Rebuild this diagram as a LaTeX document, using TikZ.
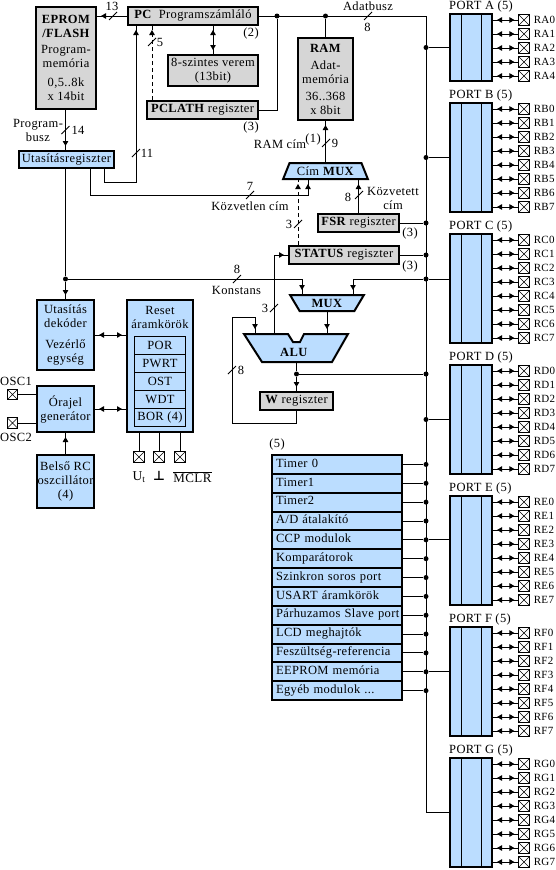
\documentclass[tikz,border=0pt]{standalone}
\usepackage{fontspec}
\setmainfont[LetterSpace=3]{Liberation Serif}
\newfontfamily\symbfont{DejaVu Sans}
\usetikzlibrary{arrows.meta, positioning, calc, shapes.geometric, decorations.markings}
\definecolor{boxblue}{HTML}{BBDDFF}
\definecolor{boxgray}{HTML}{D6D6D6}

\begin{document}
\begin{tikzpicture}[
  x=1pt, y=-1pt,
  >={Triangle[length=5pt,width=5.5pt]},
  txt/.style={inner sep=0pt, align=center, font=\fontsize{12.5}{14}\selectfont},
  pintxt/.style={inner sep=0pt, anchor=west, font=\fontsize{11}{12}\selectfont},
  dims/.style 2 args={minimum width=#1, minimum height=#2},
  block/.style={rectangle, draw, line width=2pt, anchor=north west, inner sep=0pt, align=center, font=\fontsize{12.5}{14}\selectfont},
  blueblock/.style={block, fill=boxblue},
  grayblock/.style={block, fill=boxgray},
  trapbox/.style={trapezium, trapezium stretches=true, draw, line width=2pt, fill=boxblue, inner sep=0pt, font=\fontsize{12.5}{14}\selectfont},
  rowbox/.style={block, fill=boxblue, line width=0.9pt},
  modbox/.style={blueblock, minimum height=18.85, text width=122pt, inner xsep=4pt, align=left, text height=8pt, text depth=2.5pt},
  pinbox/.style={rectangle, draw, line width=0.7pt, inner sep=0pt, minimum size=10.5pt, path picture={\draw[line width=0.6pt] (path picture bounding box.north west) -- (path picture bounding box.south east) (path picture bounding box.north east) -- (path picture bounding box.south west);}},
  junc/.style={circle, fill=black, inner sep=0pt, minimum size=5pt},
  wire/.style={line width=0.9pt},
  dashwire/.style={dash pattern=on 4pt off 3pt},
  tipend/.style={wire, postaction={decorate}, decoration={markings, mark=at position -4pt with {\arrow{>}}}},
  tipboth/.style={wire, postaction={decorate}, decoration={markings, mark=at position 4pt with {\arrowreversed{>}}, mark=at position -4pt with {\arrow{>}}}}
]
  \useasboundingbox (0,0) rectangle (556,870);

  \node[grayblock, dims={60}{102}] (eprom) at (35,6) {\textbf{EPROM}\\\textbf{/FLASH}\\[2pt]Program-\\memória\\[5pt]0,5..8k\\x 14bit};
  \node[grayblock, dims={130}{18}] (pc) at (127,6) {\textbf{PC}\ \ Programszámláló};
  \node[grayblock, dims={90}{31}] (stack) at (167,54) {8-szintes verem\\(13bit)};
  \node[grayblock, dims={111}{18}] (pclath) at (146,100) {\textbf{PCLATH} regiszter};
  \node[blueblock, dims={95}{17}] (utas) at (18,150) {Utasításregiszter};
  \node[grayblock, dims={55}{82}] (ram) at (297,37) {\textbf{RAM}\\[3pt]Adat-\\memória\\[3pt]36..368\\x 8bit};
  \node[grayblock, dims={81}{18}] (fsr) at (317,213) {\textbf{FSR} regiszter};
  \node[grayblock, dims={110}{18}] (status) at (288,245) {\textbf{STATUS} regiszter};
  \node[grayblock, dims={73}{18}] (wreg) at (259,391) {\textbf{W} regiszter};
  \node[blueblock, dims={57}{70}] (decoder) at (36,299) {Utasítás\\dekóder\\[7pt]Vezérlő\\egység};
  \node[blueblock, dims={57}{46}] (clock) at (36,385) {Órajel\\generátor};
  \node[blueblock, dims={57}{53}] (rc) at (36,454) {Belső RC\\oszcillátor\\(4)};
  \node[blueblock, dims={66}{132}] (reset) at (126,299) {};
  \node[txt] (resettxt) at (160,317) {Reset\\áramkörök};
  \foreach \t [count=\i from 0] in {POR,PWRT,OST,WDT,BOR (4)}
    \node[rowbox, dims={51}{18}] (resrow\i) at (134,336+18*\i) {\t};

  \node[trapbox, dims={85}{16}, trapezium left angle=60, trapezium right angle=60] (camux) at (325.5,171) {Cím \textbf{MUX}};
  \node[trapbox, dims={74}{16}, trapezium left angle=57, trapezium right angle=57, shape border rotate=180] (mux) at (327,303) {\textbf{MUX}};
  \draw[line width=2pt, fill=boxblue, line join=miter] (244,334) -- (288,334) -- (293,342) -- (300,342) -- (304,334) -- (348,334) -- (332,362) -- (262,362) -- cycle;
  \node[txt] (alu) at (294,352) {\textbf{ALU}};
  \coordinate (aluA) at (255,333);
  \coordinate (aluB) at (327,333);
  \coordinate (aluC) at (274,333);
  \coordinate (aluO) at (296.5,363);

  \foreach \t [count=\i from 0] in {Timer 0,Timer1,Timer2,{A/D átalakító},CCP modulok,Komparátorok,Szinkron soros port,USART áramkörök,Párhuzamos Slave port,LCD meghajtók,Feszültség-referencia,EEPROM memória,{Egyéb modulok {...}}}
    \node[modbox] (mod\i) at (271,454+18.85*\i) {\mbox{\t}};

  \foreach \p/\top/\n in {A/13/4,B/102/7,C/233/7,D/364/7,E/495/7,F/626/7,G/757/7} {
    \pgfmathsetmacro\h{14*(\n+1)-3}
    \node[blueblock, dims={42}{\h}] (port\p) at (449,\top) {};
    \node[txt, anchor=south west] (title\p) at ([yshift=1pt]port\p.north west) {PORT \p\ (5)};
    \draw[wire] ([xshift=12.5pt]port\p.north west) -- ([xshift=12.5pt]port\p.south west);
    \draw[wire] ([xshift=32.5pt]port\p.north west) -- ([xshift=32.5pt]port\p.south west);
    \foreach \i in {0,...,\n} {
      \node[pinbox] (pinR\p\i) at (524,\top+7+14*\i) {};
      \node[pintxt] (lblR\p\i) at ([xshift=4pt]pinR\p\i.east) {R\p\i};
      \draw[tipboth] (port\p.east |- pinR\p\i) -- (pinR\p\i.west);
    }
  }

  \node[pinbox] (osc1) at (12.5,394.5) {};
  \node[pinbox] (osc2) at (12.5,423) {};
  \node[pinbox] (pinUt) at (139,457) {};
  \node[pinbox] (pinGnd) at (159,457) {};
  \node[pinbox] (pinMclr) at (180,457) {};

  \coordinate (busNE) at (426,16);
  \node[junc] (jpc) at (277,16) {};
  \node[junc] (jram) at (ram.north |- busNE) {};
  \node[junc] (jkonst) at (65.5,279) {};
  \node[junc] (jportc) at (busNE |- jkonst) {};
  \node[junc] (jalu) at (296.5,374) {};
  \node[junc] (jaluout) at (busNE |- jalu) {};
  \node[junc] (jfsr) at (busNE |- fsr.east) {};
  \node[junc] (jstatus) at (busNE |- status.east) {};
  \foreach \p in {A,B,D} \node[junc] (jport\p) at (busNE |- port\p.west) {};
  \foreach \i in {0,...,12} \node[junc] (jmod\i) at (busNE |- mod\i.east) {};

  \draw[wire] (pc.east) -- (busNE) |- (portG.west);
  \draw[wire] (pclath.east) -| (jpc);
  \draw[wire] (jram) -- (ram.north);
  \draw[wire] (jaluout) -- (jalu);
  \draw[wire] (fsr.east) -- (jfsr);
  \draw[wire] (status.east) -- (jstatus);
  \foreach \p in {A,B,D} \draw[wire] (jport\p) -- (port\p.west);
  \foreach \i in {0,...,12} \draw[wire] (mod\i.east) -- (jmod\i);
  \draw[wire] (jmod4) -- (jmod4 -| portE.west);
  \draw[wire] (jmod11) -- (jmod11 -| portF.west);

  \draw[tipend] (pc.west) -- (pc.west -| eprom.east);
  \draw[tipend] (jkonst |- eprom.south) -- (jkonst |- utas.north);
  \draw[wire] (jkonst |- utas.south) -- (jkonst);
  \draw[tipend] (jkonst) -- (jkonst |- decoder.north);
  \draw[tipend] ([xshift=-11pt]utas.south east) -- ++(0,13) -| ([xshift=9pt]pc.south west);
  \draw[tipend] ([xshift=-25pt]utas.south east) -- ++(0,26) -| ([xshift=-17.5pt]camux.south);
  \draw[tipend, dashwire] ([xshift=6pt]pclath.north west) -- ([xshift=25pt]pc.south west);
  \draw[tipboth] (stack.north |- pc.south) -- (stack.north);
  \draw[tipend] (camux.north) -- (ram.south);
  \draw[tipend] (fsr.north) -- (fsr.north |- camux.south);
  \draw[tipend, dashwire] ([xshift=-27.5pt]camux.south |- status.north) -- ([xshift=-27.5pt]camux.south);
  \draw[tipend] (aluC) |- (status.west);
  \draw[tipend] (jkonst) -| ([xshift=-25pt]mux.north);
  \draw[wire] (portC.west |- jportc) -- (jportc);
  \draw[tipend] (jportc) -| ([xshift=26pt]mux.north);
  \draw[tipend] (mux.south) -- (mux.south |- aluB);
  \draw[wire] (aluO) -- (jalu);
  \draw[tipend] (jalu) -- (wreg.north);
  \draw[tipend] (wreg.south) -- ++(0,12) -| ($(aluA)+(-23,-16)$) -| (aluA);
  \draw[tipboth] (decoder.east) -- (decoder.east -| reset.west);
  \draw[tipboth] (clock.east) -- (clock.east -| reset.west);
  \draw[tipend] (rc.north) -- (clock.south);
  \draw[wire] (osc1) -- (osc1 -| clock.west);
  \draw[wire] (osc2) -- (osc2 -| clock.west);
  \draw[wire] (pinUt) -- (pinUt |- reset.south);
  \draw[wire] (pinGnd) -- (pinGnd |- reset.south);
  \draw[wire] (pinMclr) -- (pinMclr |- reset.south);

  \foreach \sx/\sy in {113/16,152/42,65.5/130,136/153,250/195,368/16,326/143,359/195,298/224,237/279,274/308,232/370}
    \draw[wire] (\sx-4,\sy+4) -- (\sx+4,\sy-4);

  \node[txt] (lbl13) at (112,6) {13};
  \node[txt] (lbl5) at (160,42) {5};
  \node[txt] (lblpc) at (251,33) {(2)};
  \node[txt] (lblpclath) at (251,127) {(3)};
  \node[txt] (lblprog) at (38,130) {Program-\\busz};
  \node[txt] (lbl14) at (78,130) {14};
  \node[txt] (lbl11) at (147,153) {11};
  \node[txt] (lbl7) at (250,186) {7};
  \node[txt] (lblkozv) at (250,206) {Közvetlen cím};
  \node[txt] (lbladat) at (368,6) {Adatbusz};
  \node[txt] (lbl8a) at (367.5,27) {8};
  \node[txt] (lblramcim) at (280,144) {RAM cím};
  \node[txt] (lblone) at (313,139) {(1)};
  \node[txt] (lbl9) at (335,143) {9};
  \node[txt] (lbl8b) at (348,197) {8};
  \node[txt] (lblkozt) at (393,198.5) {Közvetett\\cím};
  \node[txt] (lbl3a) at (289,224) {3};
  \node[txt] (lblfsr) at (410,233) {(3)};
  \node[txt] (lblstatus) at (410,266) {(3)};
  \node[txt] (lbl8c) at (237,269) {8};
  \node[txt] (lblkonst) at (236.5,290) {Konstans};
  \node[txt] (lbl3b) at (265,308) {3};
  \node[txt] (lbl8d) at (241,370) {8};
  \node[txt] (lblmod) at (277,444) {(5)};
  \node[txt] (lblosc1) at (16,381) {OSC1};
  \node[txt] (lblosc2) at (16,437) {OSC2};
  \node[txt] (lblut) at (139,477) {\fontsize{13.5}{14}\selectfont U\textsubscript{t}};
  \node[txt] (lblgnd) at (159,476) {\symbfont\bfseries\fontsize{13}{14}\selectfont ⊥};
  \node[txt] (lblmclr) at (192.5,477) {\fontsize{13}{14}\selectfont$\overline{\mbox{MCLR}}$};
\end{tikzpicture}
\end{document}
